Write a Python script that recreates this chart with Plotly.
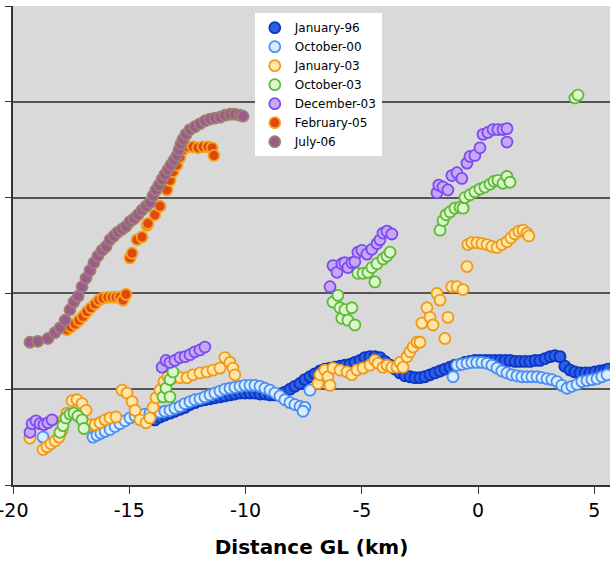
import plotly.graph_objects as go

# ---------------- data (x: distance from GL in km, y: value in axis units) ----------------
jan96_x = [-13.9,-13.68,-13.47,-13.25,-13.04,-12.82,-12.61,-12.39,-12.18,-11.96,-11.75,-11.53,-11.32,-11.1,-10.89,
           -10.67,-10.46,-10.24,-10.03,-9.81,-9.6,-9.38,-9.17,-8.95,-8.74,-8.52,-8.31,-8.09,-7.88,-7.66,-7.45,-7.23,
           -7.02,-6.8,-6.59,-6.37,-6.16,-5.94,-5.73,-5.51,-5.3,-5.08,-4.87,-4.65,-4.44,-4.22,-4.01,-3.79,-3.58,-3.36,
           -3.15,-2.93,-2.72,-2.5,-2.29,-2.07,-1.86,-1.64,-1.43,-1.21,-1.0,-0.78,-0.57,-0.35,-0.14,0.08,0.3,0.51,0.73,
           0.94,1.16,1.37,1.59,1.8,2.02,2.23,2.45,2.66,2.88,3.1,3.3,3.52,3.73,3.95,4.16,4.38,4.6,4.81,5.02,5.24,5.45,5.6]
jan96_y = [0.68,0.71,0.73,0.75,0.77,0.79,0.81,0.84,0.86,0.88,0.89,0.90,0.91,0.92,0.93,
           0.94,0.95,0.96,0.96,0.96,0.96,0.95,0.95,0.94,0.94,0.95,0.97,1.0,1.03,1.06,1.10,1.13,
           1.16,1.19,1.21,1.22,1.23,1.24,1.25,1.26,1.28,1.30,1.33,1.34,1.34,1.33,1.29,1.25,1.21,1.17,
           1.14,1.13,1.12,1.12,1.13,1.15,1.17,1.19,1.21,1.23,1.25,1.26,1.28,1.29,1.30,1.30,1.30,1.30,1.30,
           1.30,1.30,1.30,1.29,1.29,1.29,1.29,1.30,1.30,1.32,1.34,1.35,1.34,1.24,1.20,1.18,1.17,1.17,1.17,1.18,1.19,1.20,1.21]

oct00_x = [-18.71,-16.56,-16.39,-16.22,-16.04,-15.83,-15.61,-15.4,-15.18,-14.97,-14.75,-14.54,-14.33,-14.11,-13.9,-13.68,
           -13.47,-13.25,-13.04,-12.82,-12.61,-12.39,-12.18,-11.96,-11.75,-11.53,-11.32,-11.1,-10.89,-10.67,-10.46,-10.24,
           -10.03,-9.81,-9.6,-9.38,-9.17,-8.95,-8.74,-8.52,-8.31,-8.09,-7.88,-7.66,-7.45,-7.53,-7.23,
           -1.08,-0.91,-0.70,-0.48,-0.27,-0.06,0.16,0.38,0.59,0.81,1.02,1.24,1.45,1.67,1.88,2.10,2.31,2.53,2.74,2.96,
           3.17,3.39,3.60,3.82,4.03,4.25,4.46,4.68,4.89,5.11,5.32,5.54]
oct00_y = [0.50,0.50,0.52,0.54,0.56,0.58,0.61,0.64,0.67,0.70,0.72,0.73,0.74,0.75,0.76,0.76,
           0.77,0.78,0.80,0.82,0.85,0.87,0.89,0.90,0.92,0.94,0.96,0.98,1.0,1.01,1.02,1.03,
           1.04,1.04,1.04,1.03,1.01,0.99,0.96,0.93,0.89,0.86,0.84,0.82,0.81,0.77,0.99,
           1.13,1.25,1.26,1.27,1.28,1.28,1.28,1.27,1.25,1.22,1.19,1.17,1.15,1.14,1.13,1.13,1.13,1.13,1.12,1.11,
           1.10,1.08,1.04,1.01,1.03,1.05,1.08,1.09,1.10,1.11,1.13,1.15]

jan03_x = [-19.27,-18.71,-18.54,-18.37,-18.19,-18.02,-17.89,-17.81,-17.68,-17.46,-17.25,-17.03,-16.86,-16.69,-16.47,
           -16.26,-16.04,-15.83,-15.57,-15.31,-15.1,-14.88,-14.75,-14.54,-14.28,-14.11,-13.98,-13.85,-13.68,-13.51,
           -13.34,-13.12,-12.82,-12.52,-12.26,-11.96,-11.66,-11.4,-11.1,-10.89,-10.67,-10.54,-10.46,
           -6.89,-6.80,-6.59,-6.46,-6.37,-6.24,-5.94,-5.64,-5.43,-5.21,-4.95,-4.65,-4.44,-4.31,-4.09,-3.92,-3.71,
           -3.49,-3.36,-3.23,-3.06,-2.93,-2.80,-2.63,-2.50,-2.42,-2.20,-2.07,-1.94,-1.77,-1.64,-1.43,-1.30,-1.13,
           -0.91,-0.65,-0.48,-0.44,-0.27,-0.05,0.16,0.38,0.59,0.81,1.02,1.24,1.41,1.58,1.75,1.93,2.10,2.18]
jan03_y = [0.49,0.37,0.40,0.43,0.46,0.50,0.57,0.68,0.75,0.88,0.89,0.85,0.78,0.63,0.63,
           0.65,0.68,0.70,0.71,0.99,0.96,0.87,0.78,0.68,0.65,0.70,0.81,0.91,0.99,1.08,
           1.13,1.12,1.12,1.12,1.15,1.17,1.18,1.20,1.22,1.33,1.28,1.22,1.15,
           1.06,1.15,1.20,1.13,1.04,1.22,1.20,1.18,1.15,1.20,1.22,1.25,1.30,1.27,1.23,1.25,1.23,
           1.23,1.28,1.23,1.34,1.39,1.44,1.49,1.49,1.69,1.85,1.75,1.67,2.00,1.93,1.53,1.75,2.07,
           2.07,2.04,2.28,2.51,2.53,2.53,2.52,2.51,2.49,2.48,2.51,2.54,2.58,2.62,2.65,2.66,2.63,2.60]

oct03_x = [-17.98,-17.85,-17.72,-17.55,-17.38,-17.21,-17.03,-16.95,
           -13.55,-13.42,-13.25,-13.25,-13.12,
           -6.24,-6.03,-5.94,-5.86,-5.73,-5.60,-5.43,-5.30,
           -5.17,-4.95,-4.74,-4.57,-4.44,-4.35,-4.09,-3.92,-3.79,
           -1.64,-1.51,-1.38,-1.21,-1.0,-0.78,-0.65,-0.57,-0.35,-0.14,0.08,0.29,0.51,0.68,0.85,1.07,1.24,1.37,
           4.16,4.29]
oct03_y = [0.55,0.62,0.70,0.74,0.75,0.72,0.68,0.59,
           0.92,1.01,0.92,1.10,1.18,
           1.91,1.98,1.85,1.74,1.83,1.72,1.85,1.67,
           2.21,2.21,2.22,2.27,2.12,2.31,2.36,2.39,2.43,
           2.66,2.76,2.82,2.85,2.89,2.90,2.89,3.0,3.03,3.06,3.09,3.11,3.14,3.17,3.18,3.15,3.22,3.16,
           4.04,4.07]

dec03_x = [-19.27,-19.18,-19.01,-18.84,-18.67,-18.5,-18.32,
           -13.59,-13.42,-13.25,-13.04,-12.82,-12.6,-12.39,-12.18,-11.96,-11.75,
           -6.37,-6.24,-6.07,-5.86,-5.73,-5.60,-5.43,-5.30,-5.17,-5.0,-4.78,-4.57,-4.35,-4.22,-4.09,-3.92,-3.71,
           -1.77,-1.69,-1.51,-1.30,-1.13,-0.91,-0.70,-0.48,-0.35,-0.14,0.08,0.21,0.42,0.64,0.85,1.07,1.24,1.24]
dec03_y = [0.55,0.64,0.67,0.64,0.63,0.65,0.68,
           1.23,1.30,1.28,1.30,1.33,1.34,1.36,1.39,1.41,1.44,
           2.07,2.29,2.22,2.31,2.32,2.27,2.32,2.33,2.43,2.45,2.41,2.46,2.52,2.56,2.63,2.65,2.62,
           3.05,3.13,3.11,3.08,3.23,3.26,3.20,3.36,3.43,3.44,3.52,3.66,3.68,3.71,3.71,3.71,3.72,3.58]

feb05_x = [-17.68,-17.51,-17.33,-17.16,-16.99,-16.82,-16.65,-16.47,-16.3,-16.13,-15.92,-15.74,-15.57,-15.4,-15.27,-15.14,
           -14.97,-14.88,-14.67,-14.45,-14.24,-14.2,-13.9,-13.68,-13.38,-13.25,-13.12,-12.95,-12.82,-12.69,-12.48,
           -12.26,-12.05,-11.83,-11.62,-11.44,-11.36]
feb05_y = [1.62,1.65,1.68,1.72,1.76,1.81,1.85,1.89,1.93,1.95,1.96,1.96,1.96,1.96,1.93,1.99,
           2.37,2.42,2.56,2.59,2.71,2.73,2.82,2.91,3.08,3.18,3.27,3.34,3.42,3.50,3.53,
           3.53,3.52,3.53,3.53,3.52,3.44]

jul06_x = [-19.27,-18.93,-18.5,-18.2,-17.98,-17.76,-17.55,-17.38,-17.2,-17.03,-16.86,-16.69,-16.52,-16.35,-16.17,-16.0,
           -15.83,-15.66,-15.49,-15.31,-15.14,-14.97,-14.8,-14.63,-14.45,-14.28,-14.11,-13.98,-13.85,-13.72,-13.59,
           -13.47,-13.34,-13.21,-13.08,-12.95,-12.86,-12.78,-12.69,-12.56,-12.39,-12.18,-11.96,-11.75,-11.53,-11.32,
           -11.1,-10.89,-10.67,-10.46,-10.24,-10.11]
jul06_y = [1.49,1.50,1.53,1.59,1.64,1.72,1.83,1.91,1.97,2.07,2.16,2.24,2.32,2.39,2.45,2.49,
           2.56,2.60,2.64,2.67,2.70,2.75,2.78,2.82,2.87,2.91,2.95,3.02,3.08,3.13,3.19,
           3.24,3.29,3.34,3.39,3.44,3.50,3.56,3.61,3.66,3.71,3.74,3.77,3.80,3.82,3.83,
           3.84,3.86,3.87,3.87,3.86,3.85]

x_ticks = [-20, -15, -10, -5, 0, 5]

series = [
    ("January-96", jan96_x, jan96_y, "#2c5fe4", "#0b33c4"),
    ("October-00", oct00_x, oct00_y, "#d8ecff", "#4b8ff0"),
    ("January-03", jan03_x, jan03_y, "#ffe8a6", "#f0981c"),
    ("October-03", oct03_x, oct03_y, "#ddf7cd", "#5cba38"),
    ("December-03", dec03_x, dec03_y, "#c9a7f7", "#7a4cef"),
    ("February-05", feb05_x, feb05_y, "#e0490c", "#f5a524"),
    ("July-06", jul06_x, jul06_y, "#9b5b8d", "#a08070"),
]

fig = go.Figure()
for name, xs, ys, fill, edge in series:
    fig.add_trace(go.Scatter(
        x=xs, y=ys, mode="markers", name=name,
        marker=dict(size=11, color=fill, line=dict(color=edge, width=1.8)),
    ))

fig.update_layout(
    width=610, height=564,
    margin=dict(l=13, r=0, t=6, b=79),
    paper_bgcolor="white",
    plot_bgcolor="#d9d9d9",
    font=dict(family="DejaVu Sans", color="black"),
    showlegend=True,
    legend=dict(
        x=0.405, y=0.985, xanchor="left", yanchor="top",
        bgcolor="white", borderwidth=0,
        font=dict(size=12, family="DejaVu Sans"),
        itemwidth=30, tracegroupgap=0,
    ),
    xaxis=dict(
        range=[-20, 5.67], tickvals=x_ticks, ticktext=[str(v) for v in x_ticks],
        showgrid=False, zeroline=False,
        showline=True, linecolor="#333", linewidth=1.5,
        ticks="outside", ticklen=7, tickcolor="#333", tickwidth=1.2,
        tickfont=dict(size=19, family="DejaVu Sans"),
        ticklabeloverflow="allow",
        title=dict(text="<b>Distance GL (km)</b>", font=dict(size=20, family="DejaVu Sans"), standoff=20),
        automargin=False,
    ),
    yaxis=dict(
        range=[0, 5], dtick=1, showticklabels=False,
        showgrid=True, gridcolor="#555", gridwidth=1.5, zeroline=False,
        showline=True, linecolor="#333", linewidth=1.5,
        ticks="outside", ticklen=6, tickcolor="#333",
        automargin=False,
    ),
)

fig.write_html("out.html")
